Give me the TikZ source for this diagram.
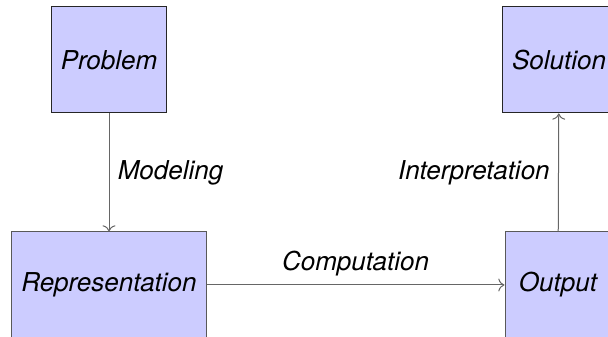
\documentclass[tikz,border=0pt]{standalone}
\usepackage{fontspec}
\setsansfont{TeX Gyre Heros}
\usepackage{tikz}
\usetikzlibrary{arrows.meta}

\begin{document}
\begin{tikzpicture}[x=0.4pt,y=0.4pt,
          font=\fontsize{10.4}{12}\selectfont\sffamily\itshape,
          stage/.style={fill=blue!20,minimum width=42.4pt,minimum height=42.4pt,
                        inner sep=3.8pt,align=center},
          flow/.style={->,draw=black!60}]
        \useasboundingbox (0,0) rectangle (608,337);
        \clip (0,0) rectangle (608,337);
        \node[stage,draw=black!85] (prob) at (109,277) {Problem};
        \node[stage,draw=black!85] (sol) at (559,277) {Solution};
        \node[stage,draw=black!65] (rep) at (109,52) {Representation};
        \node[stage,draw=black!65] (out) at (558,52) {Output};
        \draw[flow] (prob) -- node[right]{Modeling} (rep);
        \draw[flow] (rep) -- node[above]{Computation} (out);
        \draw[flow] (out) -- node[left]{Interpretation} (sol);
      \end{tikzpicture}
\end{document}
